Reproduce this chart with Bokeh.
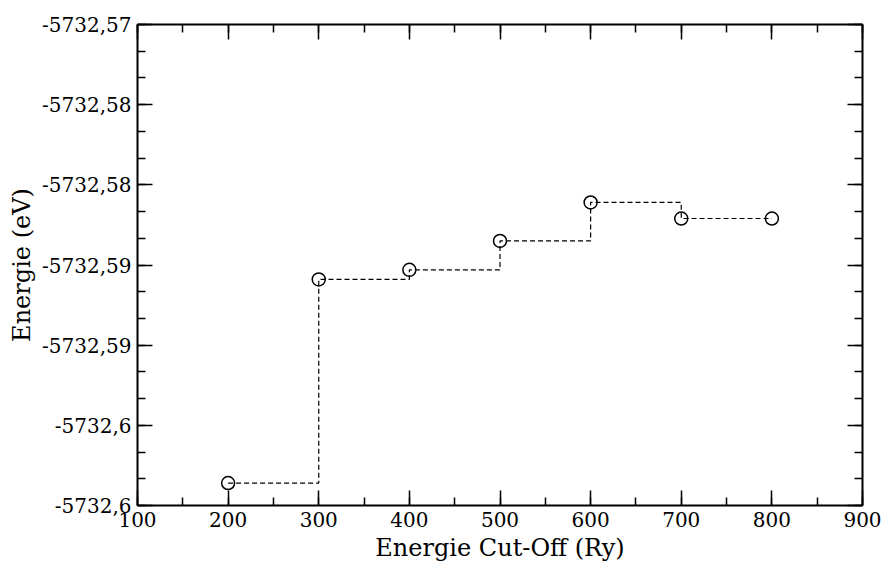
from bokeh.plotting import figure
from bokeh.models import (Range1d, LinearAxis, SingleIntervalTicker, CustomJSTickFormatter)
from bokeh.embed import file_html
from bokeh.resources import INLINE

# Data
cutoff = [200, 300, 400, 500, 600, 700, 800]
energy = [-5732.5986, -5732.5859, -5732.5853, -5732.5835, -5732.5811, -5732.5821, -5732.5821]

# Tick labels as printed on the reference (rounded to 2 decimals, comma separator)
y_start = -5732.600
y_step = 0.005
y_labels = ["-5732,6", "-5732,6", "-5732,59", "-5732,59", "-5732,58", "-5732,58", "-5732,57"]

FONT = "DejaVu Serif"

p = figure(width=884, height=564, output_backend="svg", toolbar_location=None,
           x_range=Range1d(100, 900), y_range=Range1d(-5732.600, -5732.570),
           min_border_left=137, min_border_right=22, min_border_top=24, min_border_bottom=57)
p.background_fill_color = "white"
p.border_fill_color = "white"
p.outline_line_color = None
p.xgrid.visible = False
p.ygrid.visible = False

p.step(cutoff, energy, mode="after", line_color="black", line_width=1.2, line_dash="5 3")
p.scatter(cutoff, energy, marker="circle", size=13, fill_color=None,
          line_color="black", line_width=1.5)

xt = SingleIntervalTicker(interval=100, num_minor_ticks=2)
yt = SingleIntervalTicker(interval=y_step, num_minor_ticks=3)

yfmt = CustomJSTickFormatter(args=dict(labels=y_labels, start=y_start, step=y_step),
                             code="const i = Math.round((tick - start) / step); return (i >= 0 && i < labels.length) ? labels[i] : '';")
blank = CustomJSTickFormatter(code="return '';")

def style(ax):
    ax.axis_line_width = 2
    ax.axis_line_color = "black"
    ax.major_tick_in = 15
    ax.major_tick_out = 0
    ax.minor_tick_in = 8
    ax.minor_tick_out = 0
    ax.major_tick_line_width = 1.5
    ax.minor_tick_line_width = 1.5
    ax.major_tick_line_color = "black"
    ax.minor_tick_line_color = "black"
    ax.major_label_text_font = FONT
    ax.major_label_text_font_size = "20px"
    ax.major_label_text_color = "black"
    ax.axis_label_text_font = FONT
    ax.axis_label_text_font_size = "24px"
    ax.axis_label_text_font_style = "normal"
    ax.axis_label_text_color = "black"

xa = p.xaxis[0]
xa.ticker = xt
style(xa)
xa.axis_label = "Energie Cut-Off (Ry)"
xa.major_label_standoff = 6
xa.axis_label_standoff = 4

ya = p.yaxis[0]
ya.ticker = yt
ya.formatter = yfmt
style(ya)
ya.axis_label = "Energie (eV)"
ya.major_label_standoff = 6
ya.axis_label_standoff = 3

top = LinearAxis(ticker=xt, formatter=blank)
style(top)
top.major_label_text_font_size = "0px"
p.add_layout(top, "above")

right = LinearAxis(ticker=yt, formatter=blank)
style(right)
right.major_label_text_font_size = "0px"
p.add_layout(right, "right")

open("out.html", "w").write(file_html(p, INLINE))
